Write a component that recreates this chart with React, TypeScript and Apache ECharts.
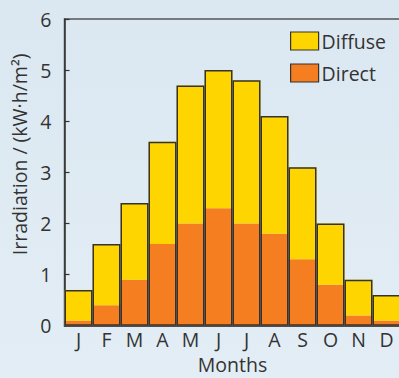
import React, { useEffect, useRef } from "react";
import * as echarts from "echarts";

const months = ["J", "F", "M", "A", "M", "J", "J", "A", "S", "O", "N", "D"];
const direct = [0.1, 0.4, 0.9, 1.6, 2.0, 2.3, 2.0, 1.8, 1.3, 0.8, 0.2, 0.1];
const total = [0.7, 1.6, 2.4, 3.6, 4.7, 5.0, 4.8, 4.1, 3.1, 2.0, 0.9, 0.6];
const diffuse = total.map((t, i) => +(t - direct[i]).toFixed(2));
const yTicks = [0, 1, 2, 3, 4, 5, 6];

const FONT = "Open Sans";
const TXT = "#333333";
const FS = 19.5;

export default function App() {
  const ref = useRef<HTMLDivElement>(null);
  useEffect(() => {
    if (!ref.current) return;
    const chart = echarts.init(ref.current, undefined, { renderer: "svg" });
    chart.setOption({
      animation: false,
      backgroundColor: "transparent",
      textStyle: { fontFamily: FONT, color: TXT },
      grid: {
        left: 64.5,
        top: 19,
        width: 336,
        bottom: 52.3,
        containLabel: false,
        outerBoundsMode: "none",
        show: true,
        borderColor: "#555555",
        borderWidth: 1.5,
        backgroundColor: "transparent",
      },
      legend: {
        orient: "vertical",
        left: 290,
        top: 31,
        padding: 0,
        itemWidth: 28,
        itemHeight: 18,
        itemGap: 12,
        icon: "rect",
        data: ["Diffuse", "Direct"],
        textStyle: { fontFamily: FONT, fontSize: FS, color: TXT, padding: [0, 0, 0, -2] },
        itemStyle: { borderColor: "#333333", borderWidth: 1.2 },
      },
      xAxis: {
        type: "category",
        data: months,
        name: "Months",
        nameLocation: "middle",
        nameGap: 28,
        nameTextStyle: { fontFamily: FONT, fontSize: FS, color: TXT, lineHeight: 20 },
        axisLine: { lineStyle: { color: "#333333", width: 1.5 } },
        axisTick: { show: false },
        axisLabel: { fontFamily: FONT, fontSize: FS, color: TXT, margin: 4 },
      },
      yAxis: {
        type: "value",
        min: yTicks[0],
        max: yTicks[yTicks.length - 1],
        interval: 1,
        name: "Irradiation / (kW·h/m²)",
        nameLocation: "middle",
        nameGap: 27,
        nameTextStyle: { fontFamily: FONT, fontSize: FS, color: TXT, padding: [0, 0, 0, 36] },
        axisLine: { show: true, lineStyle: { color: "#333333", width: 1.5 } },
        axisTick: { show: true, inside: true, length: 5, lineStyle: { color: "#333333", width: 1.2 } },
        splitLine: { show: false },
        axisLabel: { fontFamily: FONT, fontSize: FS, color: TXT, margin: 13 },
      },
      series: [
        {
          name: "Direct",
          type: "bar",
          stack: "s",
          barCategoryGap: "0%",
          data: direct,
          itemStyle: { color: "#F47E20" },
        },
        {
          name: "Diffuse",
          type: "bar",
          stack: "s",
          barCategoryGap: "0%",
          data: diffuse,
          itemStyle: { color: "#FFD500" },
        },
        {
          name: "outline",
          type: "bar",
          barGap: "-100%",
          barCategoryGap: "0%",
          data: total,
          itemStyle: { color: "transparent", borderColor: "#333333", borderWidth: 1.5 },
          silent: true,
          z: 5,
        },
      ],
    });
    return () => chart.dispose();
  }, []);
  return (
    <div
      ref={ref}
      style={{
        position: "fixed",
        left: 0,
        top: 0,
        width: 399,
        height: 378,
        background: "linear-gradient(#dbe8f1, #e3edf5)",
      }}
    />
  );
}
